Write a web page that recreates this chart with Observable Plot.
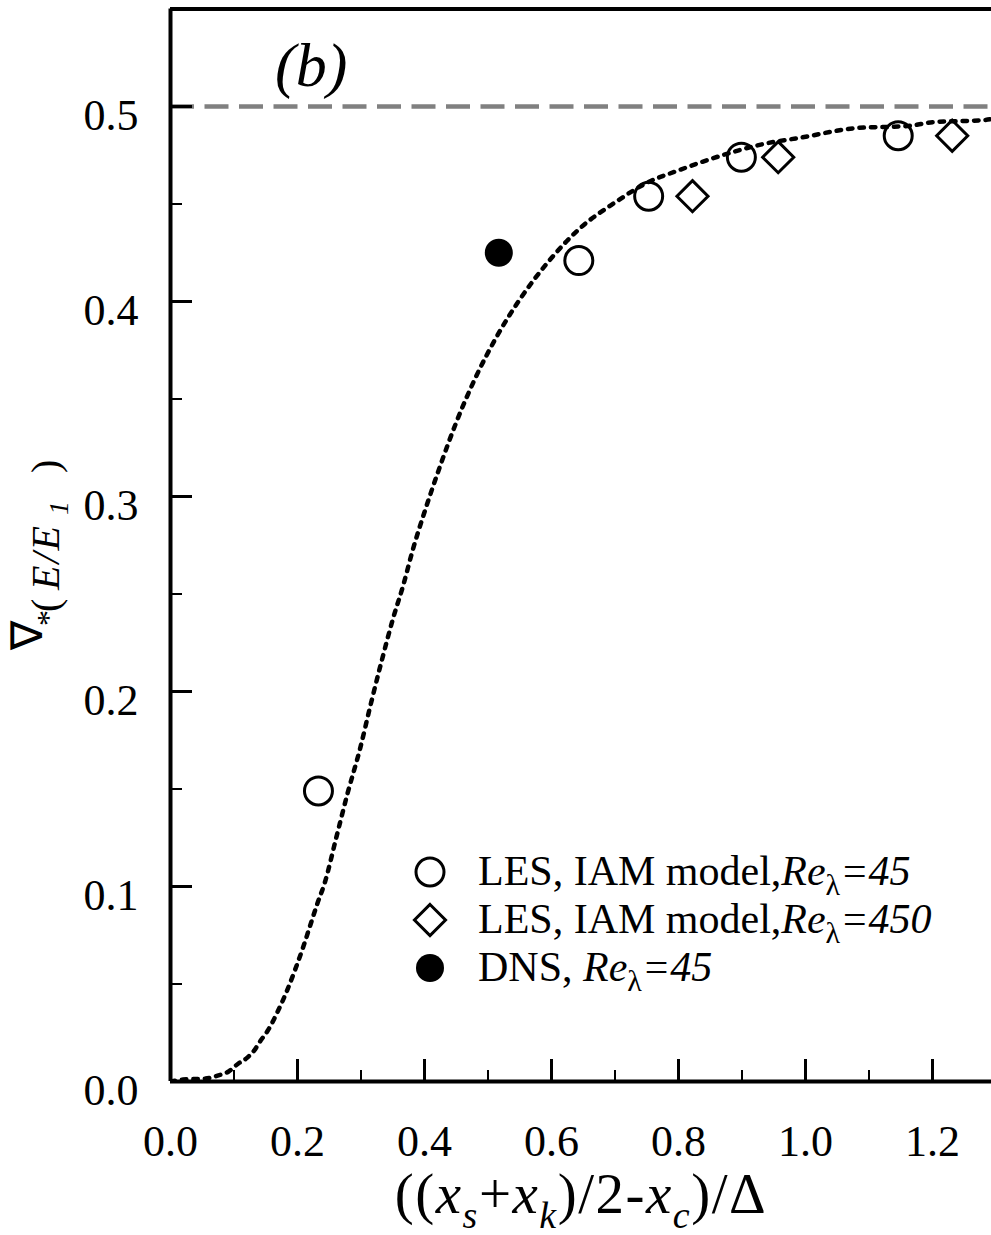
<!DOCTYPE html>
<html><head><meta charset="utf-8">
<script src="https://cdn.jsdelivr.net/npm/d3@7"></script>
<script src="https://cdn.jsdelivr.net/npm/@observablehq/plot@0.6"></script>
<style>body{margin:0;background:#fff} svg{display:block}</style>
</head><body><div id="chart"></div>
<script>
// ---- data ----
const les45X = [0.233, 0.643, 0.753, 0.899, 1.146];
const les45Y = [0.149, 0.421, 0.454, 0.474, 0.485];
const les450X = [0.822, 0.957, 1.231];
const les450Y = [0.454, 0.474, 0.485];
const dnsX = [0.517];
const dnsY = [0.425];
const curveX = [0, 0.02, 0.055, 0.074, 0.091, 0.106, 0.120, 0.132, 0.142, 0.153, 0.169, 0.184, 0.197, 0.209, 0.220, 0.231, 0.243, 0.261, 0.279, 0.298, 0.315, 0.332, 0.351, 0.367, 0.381, 0.402, 0.425, 0.450, 0.479, 0.512, 0.550, 0.594, 0.643, 0.701, 0.751, 0.798, 0.869, 0.937, 0.992, 1.082, 1.161, 1.202, 1.280, 1.30];
const curveY = [0, 0.001, 0.0015, 0.003, 0.005, 0.009, 0.012, 0.016, 0.021, 0.026, 0.036, 0.047, 0.058, 0.069, 0.080, 0.091, 0.102, 0.125, 0.148, 0.170, 0.193, 0.215, 0.238, 0.255, 0.272, 0.294, 0.316, 0.338, 0.360, 0.381, 0.401, 0.420, 0.437, 0.451, 0.461, 0.467, 0.475, 0.481, 0.484, 0.489, 0.490, 0.492, 0.493, 0.494];
const asymptote = [0.5];
const xMajor = [0, 0.2, 0.4, 0.6, 0.8, 1.0, 1.2];
const xMinor = [0.1, 0.3, 0.5, 0.7, 0.9, 1.1];
const yMajor = [0, 0.1, 0.2, 0.3, 0.4, 0.5];
const yMinor = [0.05, 0.15, 0.25, 0.35, 0.45];
const xDomain = [0, 1.2929];
const yDomain = [0, 0.55];
const legendNames = ["LES, IAM model,", "LES, IAM model,", "DNS, "];
const legendRe = ["=45", "=450", "=45"];
const legendSymbols = ["circle", "diamond", "filled"];
const panelLabel = "(b)";

const zip = (xs, ys) => xs.map((x, i) => ({x, y: ys[i]}));
const les45 = zip(les45X, les45Y);
const les450 = zip(les450X, les450Y);
const dns = zip(dnsX, dnsY);
const curve = zip(curveX, curveY);

const serif = "'Liberation Serif', 'Times New Roman', Times, serif";

const chart = Plot.plot({
  width: 991, height: 1235,
  marginLeft: 170, marginRight: 0, marginTop: 8.5, marginBottom: 154,
  style: {fontFamily: serif, background: "white", color: "black"},
  x: {domain: xDomain},
  y: {domain: yDomain},
  marks: [
    Plot.ruleY(asymptote, {stroke: "#808080", strokeWidth: 4.5, strokeDasharray: "24,10.5"}),
    Plot.line(curve, {x: "x", y: "y", curve: "monotone-x", stroke: "black", strokeWidth: 4.5, strokeDasharray: "4.5,7", clip: true}),
    Plot.dot(les45, {x: "x", y: "y", r: 14, stroke: "black", strokeWidth: 3, fill: "none"}),
    Plot.dot(les450, {x: "x", y: "y", symbol: "diamond2", r: 14, stroke: "black", strokeWidth: 3, fill: "none"}),
    Plot.dot(dns, {x: "x", y: "y", r: 14, fill: "black"}),
    Plot.ruleY([yDomain[1]], {stroke: "black", strokeWidth: 4}),
    Plot.ruleY([yDomain[0]], {stroke: "black", strokeWidth: 4}),
    Plot.ruleX([xDomain[0]], {stroke: "black", strokeWidth: 4}),
    Plot.axisX({ticks: xMajor, tickSize: -22, strokeWidth: 3, tickFormat: () => "", label: null}),
    Plot.axisX({ticks: xMinor, tickSize: -11, strokeWidth: 2, tickFormat: () => "", label: null}),
    Plot.axisX({ticks: xMajor, tickSize: 0, tickPadding: 43, tickFormat: d3.format(".1f"), fontSize: 44, label: null}),
    Plot.axisY({ticks: yMajor, tickSize: -22, strokeWidth: 3, tickFormat: () => "", label: null}),
    Plot.axisY({ticks: yMinor, tickSize: -12, strokeWidth: 2, tickFormat: () => "", label: null}),
    Plot.axisY({ticks: yMajor, tickSize: 0, tickPadding: 32, dy: 9, tickFormat: d3.format(".1f"), fontSize: 44, label: null})
  ]
});
document.getElementById("chart").append(chart);

const svg = d3.select(chart);

// panel label
svg.append("text").attr("x", 275).attr("y", 86).attr("text-anchor", "start")
  .attr("font-family", serif).attr("font-style", "italic").attr("font-size", 62)
  .text(panelLabel);

// x label
const xl = svg.append("text").attr("x", 581).attr("y", 1213).attr("text-anchor", "middle")
  .attr("font-family", serif).attr("font-size", 57).attr("letter-spacing", 1.5);
const sub = 15, subSize = 38;
xl.append("tspan").text("((");
xl.append("tspan").attr("font-style", "italic").text("x");
xl.append("tspan").attr("font-style", "italic").attr("font-size", subSize).attr("dy", sub).text("s");
xl.append("tspan").attr("dy", -sub).text("+");
xl.append("tspan").attr("font-style", "italic").text("x");
xl.append("tspan").attr("font-style", "italic").attr("font-size", subSize).attr("dy", sub).text("k");
xl.append("tspan").attr("dy", -sub).text(")/2-");
xl.append("tspan").attr("font-style", "italic").text("x");
xl.append("tspan").attr("font-style", "italic").attr("font-size", subSize).attr("dy", sub).text("c");
xl.append("tspan").attr("dy", -sub).text(")/\u0394");

// y label (rotated; distances measured along the text direction)
const yl = svg.append("text").attr("transform", "translate(59,650) rotate(-90)").attr("text-anchor", "start")
  .attr("font-family", serif).attr("font-size", 40);
yl.append("tspan").attr("x", 0).attr("dy", -17).attr("font-size", 44).text("\u2207");
yl.append("tspan").attr("x", 24).attr("dy", 17).attr("font-size", 32).text("*");
yl.append("tspan").attr("x", 38).text("(");
yl.append("tspan").attr("x", 60).attr("font-style", "italic").attr("letter-spacing", 2).text("E/E");
yl.append("tspan").attr("x", 135).attr("font-style", "italic").attr("font-size", 28).attr("dy", 9).text("1");
yl.append("tspan").attr("x", 177).attr("dy", -9).text(")");

// legend
const lg = svg.append("g").attr("font-family", serif).attr("font-size", 42).attr("text-anchor", "start");
legendNames.forEach((name, i) => {
  const cy = 872 + i * 48;
  const sym = legendSymbols[i];
  if (sym === "circle") {
    lg.append("circle").attr("cx", 430).attr("cy", cy).attr("r", 14).attr("fill", "none").attr("stroke", "black").attr("stroke-width", 3);
  } else if (sym === "diamond") {
    lg.append("path").attr("d", d3.symbol(d3.symbolDiamond2, 14 * 14 * Math.PI)()).attr("transform", `translate(430,${cy})`)
      .attr("fill", "none").attr("stroke", "black").attr("stroke-width", 3);
  } else {
    lg.append("circle").attr("cx", 430).attr("cy", cy).attr("r", 14).attr("fill", "black");
  }
  const t = lg.append("text").attr("x", 478).attr("y", cy + 13).attr("text-anchor", "start");
  t.append("tspan").text(name);
  t.append("tspan").attr("font-style", "italic").text("Re");
  t.append("tspan").attr("font-size", 30).attr("dy", 10).text("\u03bb");
  t.append("tspan").attr("font-style", "italic").attr("dy", -10).text(legendRe[i]);
});
</script>
</body></html>
